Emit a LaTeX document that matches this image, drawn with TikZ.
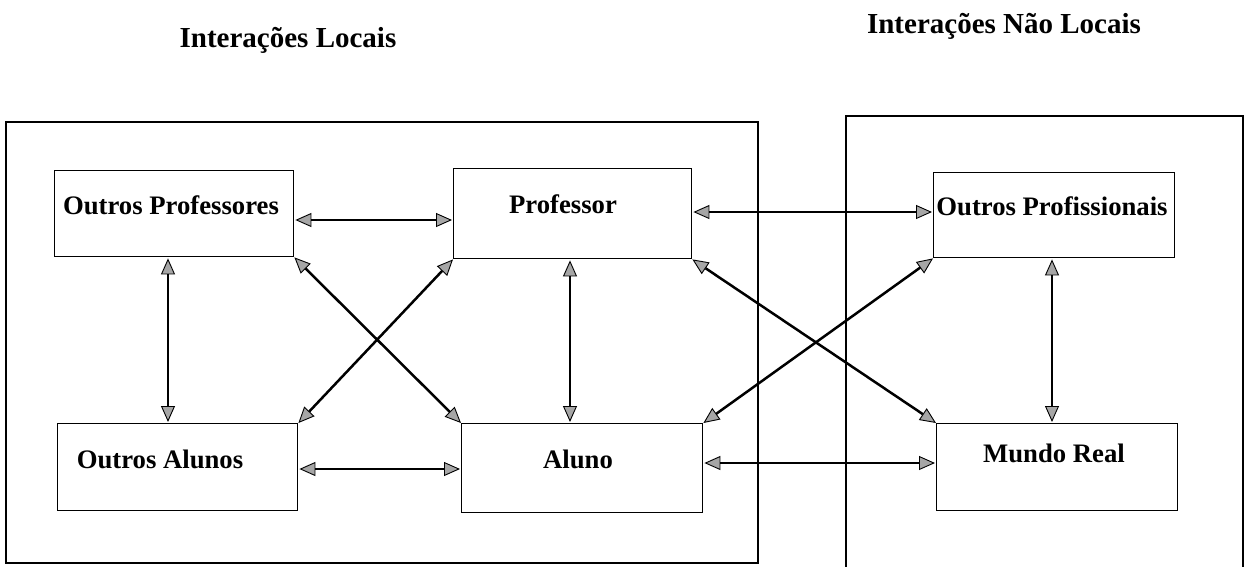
\documentclass[tikz,border=0pt]{standalone}
\usepackage{fontspec}
\setmainfont{Liberation Serif}
\usetikzlibrary{arrows.meta}
\begin{document}
\begin{tikzpicture}[x=1pt,y=-1pt,
  >={Triangle[length=16pt,width=14pt,fill=gray!70,line width=0.9pt]},
  frame/.style={draw,line width=1.3pt},
  box/.style={draw,line width=1.4pt,anchor=north west,inner sep=0pt},
  txt/.style={font=\bfseries\fontsize{26.7}{30}\selectfont,inner sep=0pt,anchor=base},
  title/.style={font=\bfseries\fontsize{29}{33}\selectfont,inner sep=0pt,anchor=base},
  link/.style={line width=1.4pt,<->,shorten <=1pt,shorten >=1pt},
  cross/.style={line width=2.5pt,<->}]
\useasboundingbox (0,0) rectangle (1250,566);

% titles
\node[title] (tl) at (288,47) {Interações Locais};
\node[title] (tn) at (1004,33) {Interações Não Locais};

% outer frames (the right one runs past the lower page edge)
\draw[frame] (6,122) rectangle (758,563);
\draw[frame] (846,116) rectangle (1243,570);

% boxes
\node[box,minimum width=239pt,minimum height=86pt] (op) at (54,170) {};
\node[box,minimum width=238pt,minimum height=90pt] (pr) at (453,168) {};
\node[box,minimum width=241pt,minimum height=85pt] (of) at (933,172) {};
\node[box,minimum width=240pt,minimum height=87pt] (oa) at (57,423) {};
\node[box,minimum width=241pt,minimum height=89pt] (al) at (461,423) {};
\node[box,minimum width=241pt,minimum height=87pt] (mr) at (936,423) {};

% labels
\node[txt] (opt) at (171,214) {Outros Professores};
\node[txt] (prt) at (563,213) {Professor};
\node[txt] (oft) at (1052,215) {Outros Profissionais};
\node[txt] (oat) at (160,468) {Outros Alunos};
\node[txt] (alt) at (578,468) {Aluno};
\node[txt] (mrt) at (1054,462) {Mundo Real};

% horizontal links
\draw[link] (op.east |- 0,220) -- (pr.west |- 0,220);
\draw[link] (pr.east |- 0,212) -- (of.west |- 0,212);
\draw[link] (oa.east |- 0,469) -- (al.west |- 0,469);
\draw[link] (al.east |- 0,463) -- (mr.west |- 0,463);

% vertical links
\draw[link] (168,0 |- op.south) -- (168,0 |- oa.north);
\draw[link] (570,0 |- pr.south) -- (570,0 |- al.north);
\draw[link] (1052,0 |- of.south) -- (1052,0 |- mr.north);

% crossing links
\draw[cross] (op.south east) -- (al.north west);
\draw[cross] (pr.south west) -- (oa.north east);
\draw[cross] (pr.south east) -- (mr.north west);
\draw[cross] (of.south west) -- (al.north east);
\end{tikzpicture}
\end{document}
